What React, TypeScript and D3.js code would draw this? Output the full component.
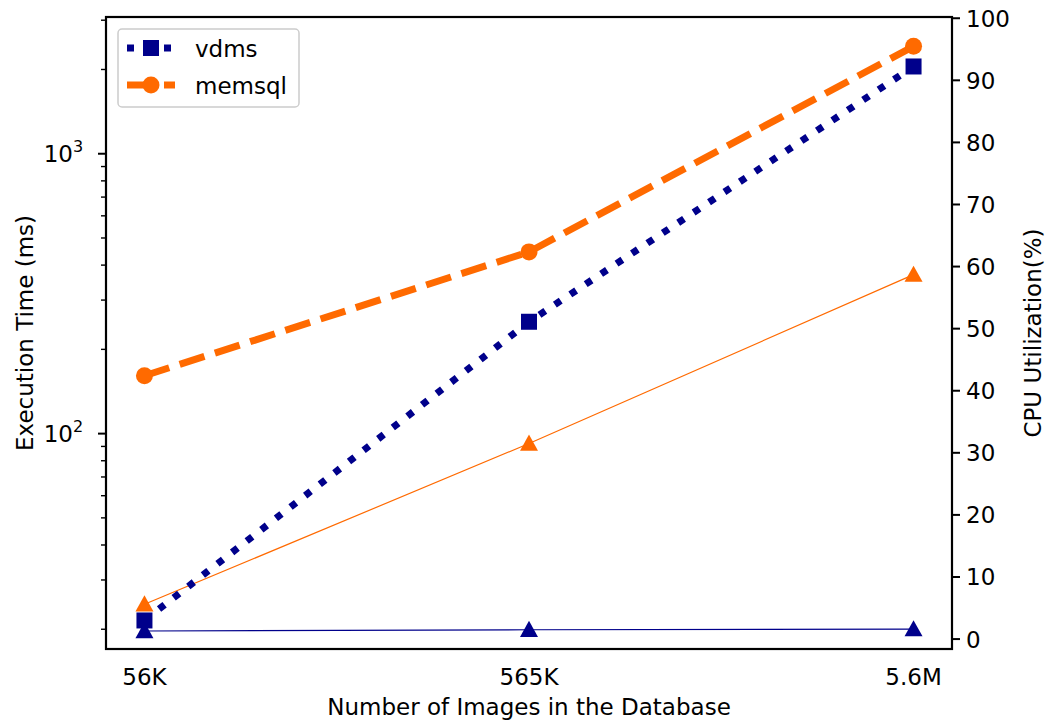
import * as d3 from 'd3'

const categories = ['56K', '565K', '5.6M']
const vdmsTime = [21.5, 251, 2050]
const memsqlTime = [161, 446, 2420]
const vdmsCpu = [1.3, 1.5, 1.6]
const memsqlCpu = [5.6, 31.5, 58.7]
const cpuTicks = [0, 10, 20, 30, 40, 50, 60, 70, 80, 90, 100]

const BLUE = '#00008b'
const ORANGE = '#ff6a00'
const FONT = 'DejaVu Sans, sans-serif'

export default function App() {
  const width = 1048
  const height = 720
  const left = 106
  const right = 952
  const top = 17
  const bottom = 649
  const fs = 23

  const x = d3.scaleLinear([-0.1, 2.1], [left, right])
  const yLog = d3.scaleLog([17.0, 3080], [bottom, top])
  const yCpu = d3.scaleLinear([-1.6, 100.2], [bottom, top])

  const lineLog = d3.line<number>().x((_, i) => x(i)).y(d => yLog(d))
  const lineCpu = d3.line<number>().x((_, i) => x(i)).y(d => yCpu(d))

  const majorLog = [100, 1000]
  const minorLog = [20, 30, 40, 50, 60, 70, 80, 90, 200, 300, 400, 500, 600, 700, 800, 900, 2000, 3000]
    .filter(v => yLog(v) >= top && yLog(v) <= bottom)

  const tri = (cx: number, cy: number, r: number) =>
    `M${cx},${cy - r}L${cx + r},${cy + r * 0.8}L${cx - r},${cy + r * 0.8}Z`

  return (
    <svg width={width} height={height} style={{position: 'absolute', left: 0, top: 0}} fontFamily={FONT}>
      <rect width={width} height={height} fill="#fff"/>

      {/* CPU utilisation (right axis) */}
      <path d={lineCpu(memsqlCpu) || ''} fill="none" stroke={ORANGE} strokeWidth={1.2}/>
      <path d={lineCpu(vdmsCpu) || ''} fill="none" stroke={BLUE} strokeWidth={1.2}/>
      {memsqlCpu.map((d, i) => <path key={'mt' + i} d={tri(x(i), yCpu(d), 9)} fill={ORANGE}/>)}
      {vdmsCpu.map((d, i) => <path key={'vt' + i} d={tri(x(i), yCpu(d), 9)} fill={BLUE}/>)}

      {/* execution time (left axis) */}
      <path d={lineLog(vdmsTime) || ''} fill="none" stroke={BLUE} strokeWidth={7} strokeDasharray="7 11.5"/>
      {vdmsTime.map((d, i) => <rect key={'vs' + i} x={x(i) - 8} y={yLog(d) - 8} width={16} height={16} fill={BLUE}/>)}
      <path d={lineLog(memsqlTime) || ''} fill="none" stroke={ORANGE} strokeWidth={7} strokeDasharray="26 11"/>
      {memsqlTime.map((d, i) => <circle key={'mc' + i} cx={x(i)} cy={yLog(d)} r={8.5} fill={ORANGE}/>)}

      {/* frame */}
      <rect x={left} y={top} width={right - left} height={bottom - top} fill="none" stroke="#000" strokeWidth={2.2}/>

      {/* left axis */}
      {majorLog.map(v => (
        <g key={'ml' + v}>
          <line x1={left - 8} x2={left} y1={yLog(v)} y2={yLog(v)} stroke="#000" strokeWidth={2}/>
          <text x={left - 33} y={yLog(v) + 8.5} textAnchor="end" fontSize={fs}>10</text>
          <text x={left - 33} y={yLog(v) - 2} fontSize={16}>{Math.log10(v)}</text>
        </g>
      ))}
      {minorLog.map(v => (
        <line key={'mn' + v} x1={left - 5} x2={left} y1={yLog(v)} y2={yLog(v)} stroke="#000" strokeWidth={1.4}/>
      ))}

      {/* right axis */}
      {cpuTicks.map(v => (
        <g key={'rt' + v}>
          <line x1={right} x2={right + 8} y1={yCpu(v)} y2={yCpu(v)} stroke="#000" strokeWidth={2}/>
          <text x={right + 14} y={yCpu(v) + 8.5} fontSize={fs}>{v}</text>
        </g>
      ))}

      {/* bottom labels */}
      {categories.map((c, i) => (
        <text key={c} x={x(i)} y={685} textAnchor="middle" fontSize={fs}>{c}</text>
      ))}
      <text x={(left + right) / 2} y={715} textAnchor="middle" fontSize={fs}>Number of Images in the Database</text>
      <text transform={`translate(33,${(top + bottom) / 2}) rotate(-90)`} textAnchor="middle" fontSize={fs}>Execution Time (ms)</text>
      <text transform={`translate(1041,${(top + bottom) / 2}) rotate(-90)`} textAnchor="middle" fontSize={fs}>CPU Utilization(%)</text>

      {/* legend */}
      <rect x={118} y={29} width={181} height={78} rx={4} fill="#fff" fillOpacity={0.8} stroke="#ccc" strokeWidth={1.5}/>
      <line x1={127} x2={175} y1={48} y2={48} stroke={BLUE} strokeWidth={7} strokeDasharray="7 11.5"/>
      <rect x={143} y={40} width={16} height={16} fill={BLUE}/>
      <text x={195} y={57} fontSize={fs}>vdms</text>
      <line x1={127} x2={175} y1={85} y2={85} stroke={ORANGE} strokeWidth={7} strokeDasharray="26 11"/>
      <circle cx={151} cy={85} r={8.5} fill={ORANGE}/>
      <text x={195} y={94} fontSize={fs}>memsql</text>
    </svg>
  )
}
